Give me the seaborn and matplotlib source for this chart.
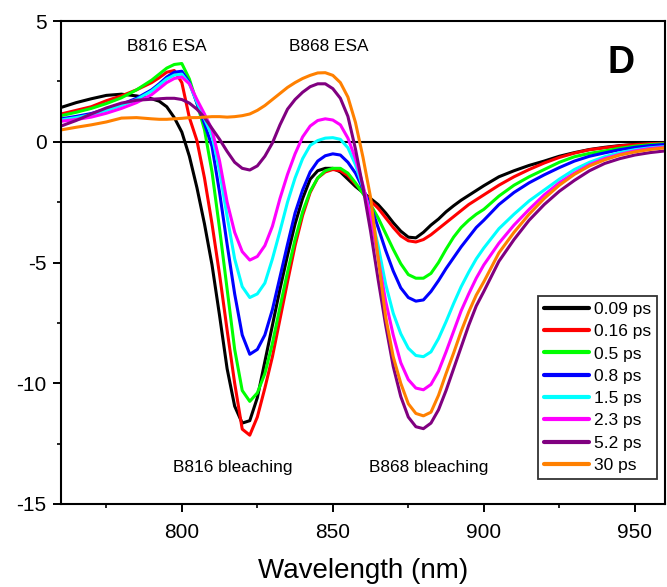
import numpy as np
import pandas as pd
import matplotlib
matplotlib.use("Agg")
import matplotlib.pyplot as plt
from matplotlib.ticker import MultipleLocator
import seaborn as sns

# Transient absorption spectra at several pump-probe delays
wavelength = [760, 765, 770, 775, 780, 785, 790,
              792.5, 795, 797.5, 800, 802.5, 805, 807.5, 810, 812.5, 815, 817.5, 820,
              822.5, 825, 827.5, 830, 832.5, 835, 837.5, 840, 842.5, 845, 847.5, 850,
              852.5, 855, 857.5, 860, 862.5, 865, 867.5, 870, 872.5, 875, 877.5, 880,
              882.5, 885, 887.5, 890, 892.5, 895, 897.5, 900,
              905, 910, 915, 920, 925, 930, 935, 940, 945, 950, 955, 960]

delay_labels = ["0.09 ps", "0.16 ps", "0.5 ps", "0.8 ps", "1.5 ps", "2.3 ps", "5.2 ps", "30 ps"]
delay_colors = ["#000000", "#ff0000", "#00ff00", "#0000ff", "#00ffff", "#ff00ff", "#800080", "#ff8000"]

dA_009 = [1.42, 1.62, 1.78, 1.92, 1.97, 1.9, 1.78,
          1.68, 1.45, 1.0, 0.4, -0.6, -1.9, -3.4, -5.1, -7.2, -9.4, -10.95, -11.65,
          -11.55, -10.6, -9.1, -7.6, -6.1, -4.7, -3.4, -2.35, -1.55, -1.2, -1.1, -1.1,
          -1.25, -1.55, -1.85, -2.1, -2.35, -2.6, -2.95, -3.35, -3.7, -3.95, -3.98, -3.75,
          -3.45, -3.2, -2.9, -2.65, -2.42, -2.22, -2.02, -1.82,
          -1.45, -1.2, -0.98, -0.8, -0.6, -0.45, -0.32, -0.23, -0.16, -0.11, -0.08, -0.06]

dA_016 = [1.15, 1.3, 1.45, 1.7, 1.9, 2.15, 2.45,
          2.65, 2.88, 2.95, 2.45, 1.0, 0.05, -1.5, -3.4, -5.5, -7.8, -10.0, -11.9,
          -12.15, -11.4, -10.2, -8.9, -7.35, -5.8, -4.3, -3.05, -2.1, -1.5, -1.25, -1.15,
          -1.2, -1.4, -1.75, -2.05, -2.45, -2.75, -3.15, -3.55, -3.9, -4.1, -4.15, -4.05,
          -3.85, -3.6, -3.35, -3.1, -2.85, -2.6, -2.4, -2.2,
          -1.8, -1.45, -1.15, -0.88, -0.65, -0.47, -0.33, -0.25, -0.17, -0.12, -0.08, -0.06]

dA_05 = [1.08, 1.22, 1.38, 1.58, 1.82, 2.15, 2.55,
         2.8, 3.05, 3.2, 3.24, 2.6, 1.6, 0.5, -1.25, -3.6, -6.1, -8.6, -10.3,
         -10.75, -10.4, -9.6, -8.35, -6.85, -5.4, -4.05, -2.9, -2.05, -1.5, -1.2, -1.1,
         -1.1, -1.3, -1.7, -2.15, -2.6, -3.15, -3.8, -4.45, -5.05, -5.5, -5.65, -5.65,
         -5.45, -5.0, -4.45, -3.95, -3.55, -3.25, -3.0, -2.8,
         -2.25, -1.8, -1.45, -1.15, -0.85, -0.62, -0.48, -0.38, -0.27, -0.18, -0.12, -0.08]

dA_08 = [0.95, 1.05, 1.17, 1.35, 1.55, 1.8, 2.15,
         2.4, 2.68, 2.88, 2.92, 2.45, 1.6, 0.75, -0.2, -2.1, -4.25, -6.3, -8.0,
         -8.8, -8.6, -8.0, -6.95, -5.6, -4.25, -2.95, -2.0, -1.25, -0.8, -0.58, -0.5,
         -0.55, -0.85, -1.3, -1.95, -2.65, -3.55, -4.5, -5.35, -6.05, -6.45, -6.6, -6.55,
         -6.2, -5.75, -5.25, -4.8, -4.35, -3.95, -3.55, -3.25,
         -2.6, -2.1, -1.7, -1.37, -1.07, -0.8, -0.6, -0.46, -0.33, -0.23, -0.16, -0.11]

dA_15 = [0.9, 1.0, 1.12, 1.3, 1.5, 1.75, 2.1,
         2.35, 2.6, 2.76, 2.8, 2.4, 1.65, 0.95, 0.25, -1.2, -3.1, -4.85, -6.0,
         -6.45, -6.3, -5.85, -4.85, -3.7, -2.5, -1.5, -0.7, -0.15, 0.05, 0.15, 0.17,
         0.1, -0.25, -0.95, -1.9, -2.95, -4.3, -5.9, -7.1, -7.95, -8.55, -8.85, -8.9,
         -8.7, -8.15, -7.45, -6.7, -6.0, -5.4, -4.85, -4.4,
         -3.6, -3.0, -2.45, -2.0, -1.55, -1.15, -0.85, -0.62, -0.45, -0.33, -0.25, -0.2]

dA_23 = [0.85, 0.92, 1.02, 1.18, 1.38, 1.62, 1.95,
         2.2, 2.45, 2.62, 2.68, 2.4, 1.75, 1.15, 0.5, -0.8, -2.5, -3.75, -4.55,
         -4.9, -4.75, -4.3, -3.5, -2.35, -1.35, -0.5, 0.2, 0.65, 0.88, 0.95, 0.9,
         0.7, 0.15, -0.7, -1.8, -3.1, -4.8, -6.6, -8.0, -9.15, -9.85, -10.2, -10.27,
         -10.05, -9.5, -8.7, -7.85, -7.0, -6.3, -5.65, -5.1,
         -4.2, -3.45, -2.8, -2.2, -1.7, -1.3, -0.95, -0.7, -0.52, -0.38, -0.28, -0.22]

dA_52 = [0.65, 0.88, 1.15, 1.4, 1.6, 1.72, 1.76,
         1.78, 1.8, 1.8, 1.75, 1.6, 1.35, 1.0, 0.55, 0.1, -0.4, -0.85, -1.1,
         -1.17, -1.0, -0.6, -0.05, 0.7, 1.35, 1.75, 2.05, 2.28, 2.4, 2.4, 2.2,
         1.8, 1.05, -0.3, -1.9, -3.7, -5.7, -7.6, -9.3, -10.55, -11.4, -11.8, -11.88,
         -11.65, -11.1, -10.3, -9.4, -8.5, -7.6, -6.8, -6.2,
         -4.95, -4.05, -3.25, -2.6, -2.05, -1.6, -1.2, -0.9, -0.7, -0.55, -0.45, -0.38]

dA_30 = [0.49, 0.6, 0.7, 0.82, 0.98, 1.0, 0.95,
         0.93, 0.93, 0.95, 0.97, 1.0, 1.0, 1.02, 1.04, 1.04, 1.02, 1.04, 1.08,
         1.15, 1.3, 1.5, 1.75, 2.0, 2.25, 2.45, 2.62, 2.75, 2.85, 2.86, 2.75,
         2.45, 1.85, 0.8, -0.65, -2.3, -4.8, -7.25, -8.9, -10.0, -10.85, -11.25, -11.35,
         -11.2, -10.5, -9.6, -8.75, -7.85, -7.05, -6.35, -5.8,
         -4.6, -3.75, -3.0, -2.35, -1.8, -1.35, -1.0, -0.75, -0.55, -0.42, -0.32, -0.25]

series = [dA_009, dA_016, dA_05, dA_08, dA_15, dA_23, dA_52, dA_30]

df = pd.concat(
    [pd.DataFrame({"wavelength": wavelength, "dA": vals, "delay": lab})
     for lab, vals in zip(delay_labels, series)],
    ignore_index=True,
)

sns.set_style("ticks")
plt.rcParams["font.family"] = ["Liberation Sans", "DejaVu Sans"]
plt.rcParams["axes.unicode_minus"] = False
plt.rcParams["text.color"] = "black"
plt.rcParams["axes.labelcolor"] = "black"
plt.rcParams["xtick.color"] = "black"
plt.rcParams["ytick.color"] = "black"

fig = plt.figure(figsize=(6.67, 5.87), dpi=100)
ax = fig.add_axes([0.0915, 0.1414, 0.9055, 0.8228])

ax.axhline(0, color="black", lw=1.5, zorder=1)

sns.lineplot(data=df, x="wavelength", y="dA", hue="delay", hue_order=delay_labels,
             palette=delay_colors, estimator=None, sort=False, linewidth=2.2,
             legend=False, ax=ax, zorder=2)
for line in ax.get_lines()[1:]:
    line.set_solid_joinstyle("round")
    line.set_solid_capstyle("round")

ax.set_xlim(760, 960)
ax.set_ylim(-15, 5)
ax.xaxis.set_major_locator(MultipleLocator(50))
ax.xaxis.set_minor_locator(MultipleLocator(25))
ax.yaxis.set_major_locator(MultipleLocator(5))
ax.yaxis.set_minor_locator(MultipleLocator(2.5))
ax.tick_params(axis="both", which="major", direction="out", length=5.5, width=1.4,
               labelsize=15)
ax.tick_params(axis="x", which="major", pad=8)
ax.tick_params(axis="y", which="major", pad=5)
ax.tick_params(axis="both", which="minor", direction="out", length=3, width=1.2)
ax.tick_params(top=False, right=False)

for side in ["left", "bottom", "top", "right"]:
    ax.spines[side].set_visible(True)
    ax.spines[side].set_color("black")
    ax.spines[side].set_linewidth(1.5)

ax.set_xlabel("Wavelength (nm)", fontsize=20, labelpad=12)
ax.set_ylabel("")

ax.text(795, 3.95, "B816 ESA", fontsize=12.4, ha="center", va="center")
ax.text(848.5, 3.95, "B868 ESA", fontsize=12.4, ha="center", va="center")
ax.text(816.8, -13.5, "B816 bleaching", fontsize=12.4, ha="center", va="center")
ax.text(881.6, -13.5, "B868 bleaching", fontsize=12.4, ha="center", va="center")
ax.text(945.5, 3.25, "D", fontsize=27, fontweight="bold", ha="center", va="center")

handles = ax.get_lines()[1:]
leg = ax.legend(handles, delay_labels, loc="lower right",
                bbox_to_anchor=(0.9868, 0.0518), borderaxespad=0,
                fontsize=12.5, handlelength=2.55, handletextpad=0.3,
                labelspacing=0.41, borderpad=0.35, frameon=True, fancybox=False)
leg.get_frame().set_edgecolor("#333333")
leg.get_frame().set_linewidth(1.3)
leg.get_frame().set_alpha(1)
for line in leg.get_lines():
    line.set_linewidth(3)

fig.savefig("out.png", dpi=100)
